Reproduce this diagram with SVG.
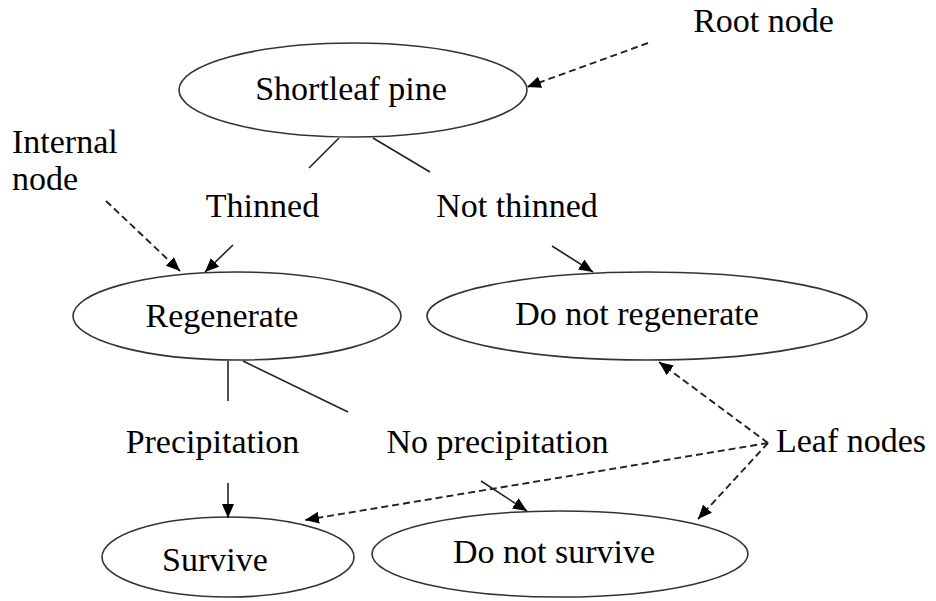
<svg xmlns="http://www.w3.org/2000/svg" width="936" height="601" viewBox="0 0 936 601">
  <style>
    .node ellipse { fill: #ffffff; stroke: #333333; stroke-width: 1.6; }
    text { font-family: "Liberation Serif", "Times New Roman", serif; font-size: 34px; fill: #000000; }
    .mid { text-anchor: middle; }
    .edge { stroke: #222222; stroke-width: 1.6; fill: none; }
    .arrow { marker-end: url(#head); }
    .dash { stroke-dasharray: 7 4; stroke-width: 1.9; }
  </style>
  <defs>
    <marker id="head" viewBox="0 0 14 12" markerWidth="14" markerHeight="12" refX="14" refY="6" orient="auto" markerUnits="userSpaceOnUse">
      <path d="M0,0 L14,6 L0,12 z" fill="#000000"/>
    </marker>
  </defs>

  <rect width="936" height="601" fill="#ffffff"/>

  <!-- nodes -->
  <g id="shortleaf-pine" class="node">
    <ellipse cx="353" cy="90" rx="174" ry="47"/>
    <text class="mid" x="351" y="100">Shortleaf pine</text>
  </g>
  <g id="regenerate" class="node">
    <ellipse cx="237" cy="316" rx="164" ry="44"/>
    <text class="mid" x="222" y="327">Regenerate</text>
  </g>
  <g id="do-not-regenerate" class="node">
    <ellipse cx="647" cy="316" rx="220" ry="44"/>
    <text class="mid" x="637" y="325">Do not regenerate</text>
  </g>
  <g id="survive" class="node">
    <ellipse cx="228" cy="557" rx="126" ry="40"/>
    <text class="mid" x="215" y="571">Survive</text>
  </g>
  <g id="do-not-survive" class="node">
    <ellipse cx="560" cy="554" rx="188" ry="43"/>
    <text class="mid" x="554" y="563">Do not survive</text>
  </g>

  <!-- connectors -->
  <g id="connectors">
    <!-- branches from the root -->
    <line class="edge" x1="339" y1="138" x2="309" y2="168"/>
    <line class="edge" x1="373" y1="138" x2="430" y2="172"/>
    <line class="edge arrow" x1="233" y1="245" x2="205" y2="272"/>
    <line class="edge arrow" x1="552" y1="246" x2="593" y2="272"/>
    <!-- branches from Regenerate -->
    <line class="edge" x1="228" y1="361" x2="228" y2="401"/>
    <line class="edge" x1="243" y1="361" x2="348" y2="412"/>
    <line class="edge arrow" x1="228" y1="483" x2="228" y2="518"/>
    <line class="edge arrow" x1="481" y1="481" x2="527" y2="511"/>
    <!-- annotation pointers -->
    <line class="edge dash arrow" x1="648" y1="43" x2="527" y2="87"/>
    <line class="edge dash arrow" x1="106" y1="201" x2="180" y2="271"/>
    <line class="edge dash arrow" x1="768" y1="443" x2="659" y2="362"/>
    <line class="edge dash arrow" x1="768" y1="443" x2="305" y2="520"/>
    <line class="edge dash arrow" x1="768" y1="443" x2="698" y2="519"/>
  </g>

  <!-- edge labels -->
  <text class="mid" x="262.5" y="217">Thinned</text>
  <text class="mid" x="517" y="217">Not thinned</text>
  <text class="mid" x="212.5" y="453">Precipitation</text>
  <text class="mid" x="497.5" y="453">No precipitation</text>

  <!-- annotations -->
  <text class="mid" x="763.5" y="32">Root node</text>
  <text x="12" y="153">Internal</text>
  <text x="12" y="190">node</text>
  <text x="776" y="452">Leaf nodes</text>
</svg>
